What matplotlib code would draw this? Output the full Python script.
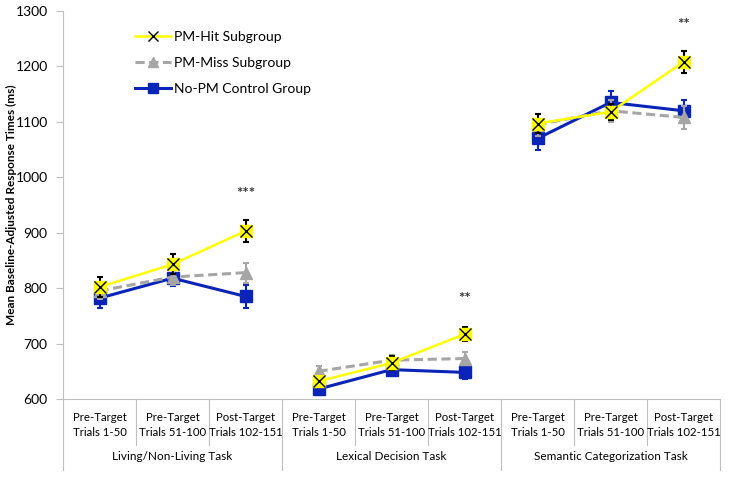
import matplotlib
matplotlib.use("Agg")
import matplotlib.pyplot as plt
import numpy as np
from matplotlib.lines import Line2D

plt.rcParams['font.family'] = ['Lato', 'DejaVu Sans']

tasks = ["Living/Non-Living Task", "Lexical Decision Task", "Semantic Categorization Task"]
phases = ["Pre-Target\nTrials 1-50", "Pre-Target\nTrials 51-100", "Post-Target\nTrials 102-151"]

hit = [[802, 843, 903], [632, 665, 717], [1097, 1118, 1208]]
hit_err = [[18, 18, 20], [10, 12, 12], [18, 15, 20]]
miss = [[795, 820, 828], [650, 670, 673], [1095, 1120, 1108]]
miss_err = [[15, 15, 18], [10, 10, 12], [20, 20, 20]]
ctrl = [[782, 818, 785], [618, 653, 648], [1070, 1135, 1120]]
ctrl_err = [[18, 15, 20], [10, 10, 12], [20, 20, 20]]
sig_labels = ["***", "**", "**"]
sig_y = [970, 780, 1275]

fig = plt.figure(figsize=(7.29, 4.82), dpi=100)
ax = fig.add_axes([63/729, 1-399/482, (720-63)/729, (399-11)/482])

yellow = "#FFFF00"
grey = "#A6A6A6"
blue = "#0A24B8"

for t in range(3):
    x = np.arange(3) + 3*t
    ax.errorbar(x, hit[t], yerr=hit_err[t], color=yellow, lw=1.8, ecolor="black",
                elinewidth=1.5, capsize=2.5, capthick=1.5, marker='s', ms=8,
                mfc=yellow, mec=yellow, zorder=5)
    ax.plot(x, hit[t], ls='none', marker='x', ms=8, mew=1.0, color='black', zorder=6)
    ax.errorbar(x, miss[t], yerr=miss_err[t], color=grey, lw=2.2, ls=(0, (3, 1.5)),
                ecolor=grey, elinewidth=1.5, capsize=2.5, capthick=1.5, marker='^', ms=9,
                mfc=grey, mec=grey, zorder=4)
    ax.errorbar(x, ctrl[t], yerr=ctrl_err[t], color=blue, lw=2.2, ecolor=blue,
                elinewidth=1.5, capsize=2.5, capthick=1.5, marker='s', ms=9,
                mfc=blue, mec=blue, zorder=3)
    ax.text(x[2], sig_y[t], sig_labels[t], ha='center', va='center', fontsize=11,
            fontweight='bold', color='#333333')

h1 = Line2D([], [], color=yellow, lw=1.8, marker='x', ms=7, mec='black', mew=1.0)
h2 = Line2D([], [], color=grey, lw=2.2, ls=(0, (3, 1.5)), marker='^', ms=7, mfc=grey, mec=grey)
h3 = Line2D([], [], color=blue, lw=2.2, marker='s', ms=7, mfc=blue, mec=blue)
ax.legend([h1, h2, h3], ["PM-Hit Subgroup", "PM-Miss Subgroup", "No-PM Control Group"],
          loc='upper left', bbox_to_anchor=(0.09, 0.98), frameon=False, fontsize=10,
          handlelength=2.6, handletextpad=0.2, labelspacing=1.0)

ax.set_xlim(-0.5, 8.5)
ax.set_ylim(600, 1300)
ax.set_yticks(np.arange(600, 1301, 100))
ax.tick_params(axis='y', labelsize=10, length=5, color='#BFBFBF', pad=6)
ax.set_xticks([])
for s in ['top', 'right']:
    ax.spines[s].set_visible(False)
ax.spines['left'].set_color('#BFBFBF')
ax.spines['bottom'].set_color('#BFBFBF')
fig.text(11/729, 1-205/482, "Mean Baseline-Adjusted Response Times (ms)", rotation=90,
         ha='center', va='center', fontsize=8.5, fontweight='bold')

trans = ax.get_xaxis_transform()
for i in range(10):
    xb = i - 0.5
    y0 = -71/388 if i % 3 == 0 else -46/388
    ax.plot([xb, xb], [0, y0], transform=trans, color='#BFBFBF', lw=0.8, clip_on=False)
for t in range(3):
    for p in range(3):
        ax.text(3*t + p, -26/388, phases[p], transform=trans, ha='center', va='center',
                fontsize=8.2, linespacing=1.4)
    ax.text(3*t + 1, -58/388, tasks[t], transform=trans, ha='center', va='center',
            fontsize=8.5)

fig.savefig("out.png", dpi=100)
